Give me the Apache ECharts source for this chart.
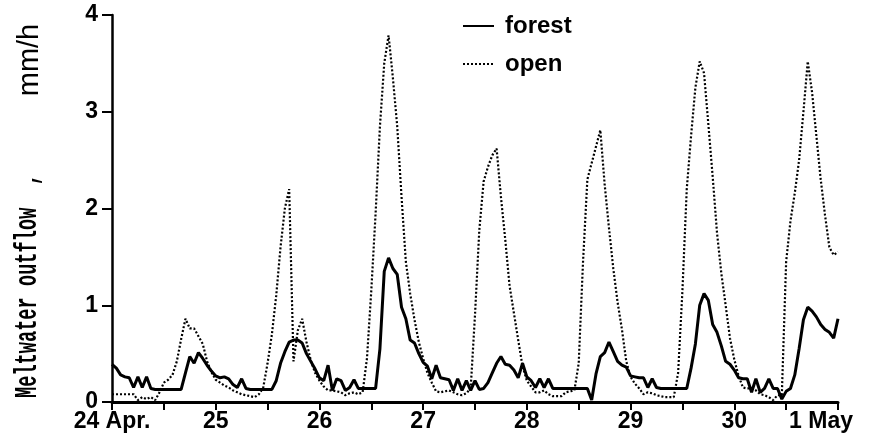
<!DOCTYPE html>
<html><head><meta charset="utf-8">
<script src="https://cdn.jsdelivr.net/npm/echarts@6/dist/echarts.min.js"></script>
<style>html,body{margin:0;padding:0;background:#fff}#c{width:889px;height:445px}</style>
</head><body><div id="c"></div>
<script>
// x tick labels (one per day, midnight)
const dayLabels = ['24 Apr.', '25', '26', '27', '28', '29', '30', '1 May'];

// Hourly meltwater outflow (mm/h), starting 24 Apr 00:00, one row per day
const forest = [
  0.39,0.35,0.28,0.26,0.25,0.15,0.26,0.15,0.26,0.14,0.13,0.13,0.13,0.13,0.13,0.13,0.13,0.30,0.47,0.40,0.51,0.45,0.38,0.32,
  0.27,0.25,0.26,0.24,0.18,0.15,0.24,0.14,0.13,0.13,0.13,0.13,0.13,0.13,0.22,0.40,0.52,0.62,0.64,0.64,0.61,0.50,0.42,0.34,
  0.25,0.22,0.38,0.12,0.24,0.22,0.12,0.15,0.23,0.14,0.14,0.14,0.14,0.14,0.55,1.35,1.49,1.38,1.32,0.98,0.86,0.64,0.61,0.50,
  0.41,0.37,0.24,0.38,0.25,0.24,0.23,0.12,0.24,0.12,0.22,0.12,0.22,0.13,0.14,0.20,0.30,0.40,0.47,0.39,0.38,0.33,0.25,0.40,
  0.26,0.22,0.15,0.24,0.15,0.24,0.14,0.14,0.14,0.14,0.14,0.14,0.14,0.14,0.14,0.02,0.29,0.47,0.51,0.62,0.52,0.42,0.38,0.36,
  0.27,0.26,0.25,0.25,0.15,0.24,0.15,0.14,0.14,0.14,0.14,0.14,0.14,0.14,0.35,0.60,1.00,1.12,1.05,0.80,0.72,0.58,0.42,0.39,
  0.33,0.25,0.24,0.24,0.10,0.24,0.10,0.14,0.24,0.14,0.14,0.03,0.11,0.14,0.28,0.55,0.85,0.98,0.94,0.88,0.80,0.75,0.72,0.66,
  0.86
];
const open = [
  0.08,0.08,0.08,0.08,0.08,0.08,0.02,0.05,0.03,0.05,0.02,0.10,0.20,0.23,0.28,0.42,0.65,0.86,0.76,0.76,0.68,0.60,0.42,0.31,
  0.23,0.20,0.17,0.15,0.12,0.10,0.08,0.07,0.06,0.05,0.08,0.15,0.40,0.70,1.10,1.60,2.00,2.20,0.42,0.74,0.86,0.62,0.43,0.30,
  0.22,0.16,0.12,0.12,0.11,0.10,0.07,0.09,0.10,0.08,0.10,0.45,1.15,1.95,2.85,3.50,3.79,3.35,2.85,2.12,1.45,1.12,0.85,0.62,
  0.45,0.30,0.20,0.11,0.10,0.11,0.12,0.10,0.08,0.07,0.09,0.14,0.90,1.78,2.28,2.43,2.55,2.62,2.12,1.68,1.20,0.92,0.64,0.37,
  0.22,0.16,0.10,0.10,0.12,0.08,0.06,0.06,0.06,0.10,0.11,0.12,0.40,1.45,2.30,2.47,2.64,2.81,2.25,1.80,1.38,1.03,0.75,0.42,
  0.26,0.19,0.14,0.08,0.10,0.09,0.07,0.06,0.05,0.05,0.05,0.30,1.15,2.20,2.75,3.25,3.52,3.40,2.87,2.33,1.75,1.33,1.00,0.66,
  0.44,0.27,0.15,0.14,0.14,0.12,0.08,0.07,0.05,0.02,0.07,0.07,1.45,1.87,2.16,2.50,3.00,3.52,3.20,2.75,2.30,1.93,1.60,1.52,
  1.55
];
const yTitle = 'Meltwater outflow  ,';
const yUnit = 'mm/h';

const chart = echarts.init(document.getElementById('c'), null, {renderer: 'canvas'});
const toPairs = arr => arr.map((v, i) => [i, v]);
const sans = 'Liberation Sans, Arial, sans-serif';
const tickFont = {color: '#000', fontFamily: sans, fontWeight: 'bold', fontSize: 23};

chart.setOption({
  animation: false,
  backgroundColor: '#fff',
  grid: {left: 112, right: 51, top: 15, bottom: 43},
  legend: {
    orient: 'vertical', left: 462, top: 14, padding: 0,
    itemWidth: 31, itemHeight: 4, itemGap: 14,
    itemStyle: {color: 'rgba(0,0,0,0)', borderWidth: 0},
    textStyle: {fontFamily: sans, fontWeight: 'bold', fontSize: 24, lineHeight: 22, color: '#000', padding: [0, 0, 0, 6]},
    data: ['forest', 'open']
  },
  xAxis: {
    type: 'value', min: 0, max: 168, interval: 12,
    axisLine: {show: true, lineStyle: {color: '#000', width: 3}},
    axisTick: {show: true, length: 8, lineStyle: {color: '#000', width: 2}},
    axisLabel: Object.assign({}, tickFont, {
      margin: 8,
      formatter: v => {
        if (v % 24 !== 0) return '';
        const lab = dayLabels[v / 24];
        return v === 168 ? '{m|' + lab + '}' : lab;
      },
      rich: {m: Object.assign({}, tickFont, {padding: [0, 34, 0, 0]})}
    }),
    splitLine: {show: false}
  },
  yAxis: {
    type: 'value', min: 0, max: 4, interval: 1,
    axisLine: {show: true, lineStyle: {color: '#000', width: 2.5}},
    axisTick: {show: true, length: 10, lineStyle: {color: '#000', width: 2}},
    axisLabel: Object.assign({}, tickFont, {margin: 14}),
    splitLine: {show: false}
  },
  graphic: [
    {
      type: 'text', x: 28, y: 398, rotation: Math.PI / 2, scaleX: 0.583, scaleY: 1,
      style: {text: yTitle, fontFamily: 'Liberation Mono', fontWeight: 'bold', fontSize: 32, fill: '#000', align: 'left', verticalAlign: 'middle'}
    },
    {
      type: 'text', x: 30, y: 60, rotation: Math.PI / 2,
      style: {text: yUnit, fontFamily: 'Liberation Sans', fontSize: 29, fill: '#000', align: 'center', verticalAlign: 'middle'}
    }
  ],
  series: [
    {
      name: 'forest', type: 'line', data: toPairs(forest), symbol: 'none', z: 3,
      lineStyle: {color: '#000', width: 3}, itemStyle: {color: '#000'}
    },
    {
      name: 'open', type: 'line', data: toPairs(open), symbol: 'none', z: 2,
      lineStyle: {color: '#000', width: 2.2, type: [2, 2]}, itemStyle: {color: '#000'}
    }
  ]
});
</script>
</body></html>
